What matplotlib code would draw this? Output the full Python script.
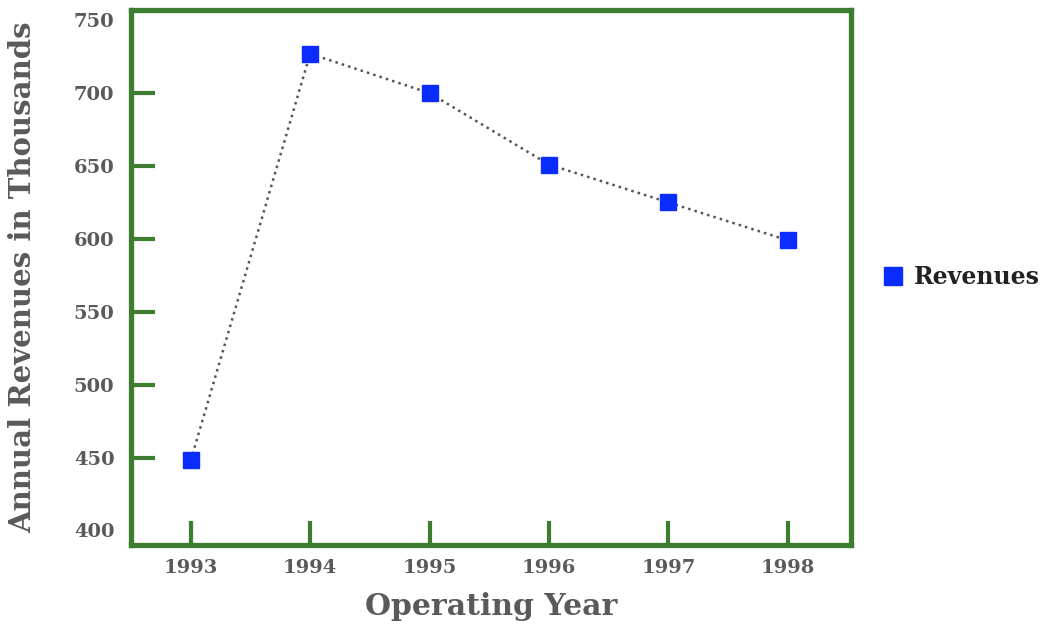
import matplotlib.pyplot as plt

# values
years = [1993, 1994, 1995, 1996, 1997, 1998]
revenues = [448, 727, 700, 651, 625, 599]
y_ticks = [400, 450, 500, 550, 600, 650, 700, 750]

green = '#3c7d2f'
grey = '#5a5a5a'
font = 'DejaVu Serif'

fig = plt.figure(figsize=(10.45, 6.25), dpi=100)
ax = fig.add_axes([0.1254, 0.128, 0.689, 0.856])

ax.plot(years, revenues, color='#555555', linestyle=':', linewidth=1.8,
        marker='s', markersize=12, markerfacecolor='#0a2cff',
        markeredgecolor='#0a2cff', label='Revenues', zorder=3)

ax.set_xlim(1992.5, 1998.53)
ax.set_ylim(390, 757)
ax.set_xticks(years)
ax.set_yticks(y_ticks)

for s in ax.spines.values():
    s.set_color(green)
    s.set_linewidth(3.8)

ax.tick_params(axis='both', direction='in', color=green, width=3, length=17,
               labelcolor=grey, labelsize=14, pad=10)
ax.tick_params(axis='y', pad=12)
for lab in ax.get_xticklabels() + ax.get_yticklabels():
    lab.set_fontfamily(font)
    lab.set_fontweight('bold')

# no tick marks drawn at the end values of y
yt = ax.yaxis.get_major_ticks()
yt[0].tick1line.set_visible(False)
yt[-1].tick1line.set_visible(False)

ax.set_xlabel('Operating Year', fontsize=21.5, fontweight='bold', color=grey,
              family=font, labelpad=11)
ax.set_ylabel('Annual Revenues in Thousands', fontsize=21, fontweight='bold',
              color=grey, family=font, labelpad=26)

leg = fig.legend(loc='center left', bbox_to_anchor=(0.825, 0.556), frameon=False,
                 handlelength=0.8, handletextpad=0.5, markerscale=1.1,
                 prop={'family': font, 'weight': 'bold', 'size': 17})
leg.get_lines()[0].set_linestyle('None')
for t in leg.get_texts():
    t.set_color('#222222')

plt.savefig('out.png', dpi=100)
